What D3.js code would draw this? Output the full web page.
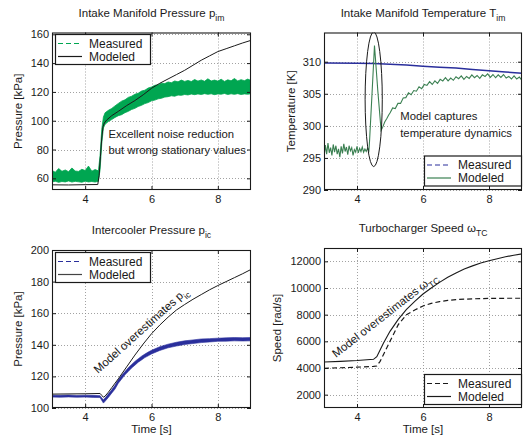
<!DOCTYPE html>
<html>
<head>
<meta charset="utf-8">
<script src="https://cdn.jsdelivr.net/npm/d3@7"></script>
<style>
  html, body { margin: 0; padding: 0; background: #fff; }
  svg { display: block; font-family: "Liberation Sans", Arial, Helvetica, sans-serif; }
</style>
</head>
<body>
<svg id="chart" width="523" height="439"></svg>
<script>
// ---------- shared axis values ----------
const timeDomain = [3, 9];
const timeTicks = [4, 6, 8];

// ---------- intake manifold pressure p_im [kPa] ----------
// measured signal is very noisy: kept as lower / upper envelope of the band
const pimBandTime = [3.0,3.1,3.2,3.3,3.4,3.5,3.6,3.7,3.8,3.9,4.0,4.1,4.2,4.3,4.4,4.45,4.5,4.55,4.6,
  4.7,4.8,4.9,5.0,5.1,5.2,5.3,5.4,5.5,5.6,5.7,5.8,5.9,6.0,6.1,6.2,6.3,6.4,6.5,6.6,6.7,6.8,6.9,
  7.0,7.1,7.2,7.3,7.4,7.5,7.6,7.7,7.8,7.9,8.0,8.1,8.2,8.3,8.4,8.5,8.6,8.7,8.8,8.9,9.0];
const pimBandLow = [57.5,58.0,57.2,57.8,57.5,58.2,57.4,57.9,57.6,57.3,58.0,57.5,57.8,57.4,58.0,66,84,95,97.5,
  99.5,100.8,102.3,103.5,104.2,105.6,106.5,107.8,108.6,109.9,110.7,111.9,112.6,113.8,114.3,115.2,115.6,116.4,116.7,117.3,117.0,117.8,117.6,
  118.2,117.9,118.5,118.1,118.6,118.2,118.8,118.3,118.7,118.1,118.6,118.4,118.9,118.2,118.7,118.3,118.8,118.2,118.6,118.4,118.7];
const pimBandHigh = [65.5,64.2,66.8,64.9,65.8,64.6,67.2,65.1,64.8,66.3,65.4,68.5,65.0,66.1,65.2,76,94,102.5,105.5,
  107.2,108.5,110.3,112.0,113.6,114.5,116.2,117.0,118.4,119.1,120.6,121.2,122.7,123.4,124.6,124.9,126.1,125.8,126.9,126.4,127.6,127.0,128.2,
  127.3,128.0,127.2,128.6,127.5,128.3,127.4,129.1,127.6,128.2,127.5,128.8,127.3,128.4,127.7,129.3,127.6,128.5,127.8,128.9,128.0];
const pimModelTime = [3.0,3.5,4.0,4.38,4.42,4.46,4.5,4.54,4.58,4.65,4.8,5.0,5.25,5.5,5.75,6.0,6.25,6.5,6.75,7.0,7.25,7.5,7.75,8.0,8.25,8.5,8.75,9.0];
const pimModelValue = [55.5,55.4,55.6,55.7,62,75,88,96,98.5,100.5,103.5,106.5,110.5,114,118,122.5,126,129,132,135,138.5,142,145,148,150,152,154,155.8];
const pimTicks = [60, 80, 100, 120, 140, 160];

// ---------- intake manifold temperature T_im [K] ----------
const timMeasTime = [3.0,4.0,4.5,5.0,5.5,6.0,6.5,7.0,7.5,8.0,8.5,9.0];
const timMeasValue = [309.8,309.75,309.7,309.6,309.5,309.3,309.15,309.0,308.8,308.6,308.4,308.2];
const timModelTime = [3.00,3.04,3.08,3.12,3.16,3.20,3.24,3.28,3.32,3.36,3.40,3.44,3.48,3.52,3.56,3.60,3.64,3.68,3.72,3.76,
  3.80,3.84,3.88,3.92,3.96,4.00,4.04,4.08,4.12,4.16,4.20,4.24,4.28,4.32,4.36,
  4.38,4.45,4.53,4.63,4.73,4.78,4.84,4.90,4.96,
  5.00,5.08,5.16,5.24,5.32,5.40,5.48,5.56,5.64,5.72,5.80,5.88,5.96,6.04,6.12,6.20,6.28,6.36,6.44,6.52,6.60,6.68,6.76,6.84,6.92,
  7.00,7.08,7.16,7.24,7.32,7.40,7.48,7.56,7.64,7.72,7.80,7.88,7.96,8.04,8.12,8.20,8.28,8.36,8.44,8.52,8.60,8.68,8.76,8.84,8.92,9.00];
const timModelValue = [295.2,297.0,295.6,297.3,295.8,296.6,295.4,297.1,295.9,296.9,295.6,296.4,295.1,296.8,295.7,297.2,296.0,296.7,295.5,296.9,
  296.1,296.6,295.4,296.3,295.9,296.8,295.8,296.5,296.0,296.7,295.9,296.4,296.0,296.5,296.1,
  297.6,304.5,312.5,305.5,299.3,299.8,300.6,301.1,301.7,
  302.0,302.8,302.7,303.5,303.5,304.35,304.4,305.15,304.85,305.5,305.4,306.1,305.8,306.45,306.3,306.9,306.45,307.0,306.6,307.25,307.0,307.5,307.0,307.45,307.1,
  307.65,307.35,307.8,307.25,307.7,307.4,307.95,307.5,307.85,307.4,307.95,307.7,308.1,307.55,308.0,307.5,307.95,307.55,308.0,307.45,307.7,307.3,307.8,307.3,307.6,307.1];
const timTicks = [290, 295, 300, 305, 310];
// highlighted transient: centre time, centre temperature, half-width [s], half-height [K]
const timHighlight = { t: 4.506, v: 304.15, dt: 0.26, dv: 10.5 };

// ---------- intercooler pressure p_ic [kPa] ----------
const picBandTime = [3.0,3.25,3.5,3.75,4.0,4.25,4.45,4.5,4.55,4.6,4.7,4.8,4.9,5.0,5.1,5.2,5.3,5.4,5.5,5.6,5.7,5.8,5.9,6.0,
  6.25,6.5,6.75,7.0,7.25,7.5,7.75,8.0,8.25,8.5,8.75,9.0];
const picBandLow = [106.9,106.8,107.0,106.8,106.9,106.7,106.6,104.8,103.1,104.2,106.7,109.4,112.0,115.7,118.3,121.0,123.1,125.3,127.1,129.0,130.4,131.9,133.0,134.2,
  136.4,138.1,139.2,140.2,140.8,141.4,141.8,142.2,142.3,142.5,142.4,142.5];
const picBandHigh = [108.1,108.0,108.2,107.9,108.1,108.0,107.8,106.3,105.3,106.4,109.0,111.6,114.4,118.0,120.7,123.1,125.5,127.5,129.5,131.1,132.8,134.1,135.4,136.5,
  138.8,140.4,141.6,142.5,143.1,143.7,143.9,144.2,144.4,144.6,144.5,144.6];
const picModelTime = [3.0,4.0,4.45,4.5,4.55,4.6,4.7,4.8,5.0,5.25,5.5,5.75,6.0,6.25,6.5,6.75,7.0,7.25,7.5,7.75,8.0,8.25,8.5,8.75,9.0];
const picModelValue = [108.8,109.0,109.2,108.0,106.8,107.5,110.0,112.8,118.5,126.0,133.5,140.5,147.0,152.5,157.5,162.0,165.5,168.8,171.8,174.8,177.5,180.0,182.5,185.0,187.7];
const picTicks = [100, 120, 140, 160, 180, 200];

// ---------- turbocharger speed w_TC [rad/s] ----------
const wtcMeasTime = [3.0,3.5,4.0,4.5,4.6,4.7,4.8,4.9,5.0,5.25,5.5,5.75,6.0,6.25,6.5,6.75,7.0,7.5,8.0,8.5,9.0];
const wtcMeasValue = [3980,4020,4060,4120,4150,4500,5000,5500,6000,7250,8000,8350,8650,8850,8980,9070,9130,9190,9220,9230,9230];
const wtcModelTime = [3.0,3.5,4.0,4.5,4.6,4.7,4.8,4.9,5.0,5.25,5.5,5.75,6.0,6.25,6.5,6.75,7.0,7.25,7.5,7.75,8.0,8.25,8.5,8.75,9.0];
const wtcModelValue = [4450,4500,4560,4650,4850,5350,5850,6300,6750,7650,8400,9000,9550,10000,10420,10800,11130,11420,11660,11870,12050,12200,12340,12460,12560];
const wtcTicks = [2000, 4000, 6000, 8000, 10000, 12000];

// ---------- colours ----------
const greenBright = "#00a651";
const greenDark = "#3b8052";
const navy = "#2a2f9c";
const ink = "#1a1a1a";

const svg = d3.select("#chart");
svg.append("rect").attr("width", 523).attr("height", 439).attr("fill", "#fff");
const defs = svg.append("defs");

const zip = (ts, vs) => ts.map((t, i) => ({ t, v: vs[i] }));
const zip3 = (ts, lo, hi) => ts.map((t, i) => ({ t, lo: lo[i], hi: hi[i] }));

// text with a trailing subscript
function subText(parent, x, y, main, sub, size, anchor, angle) {
  const t = parent.append("text")
    .attr("x", x).attr("y", y)
    .attr("font-size", size)
    .attr("text-anchor", anchor)
    .attr("fill", ink);
  if (angle) t.attr("transform", `rotate(${angle},${x},${y})`);
  t.append("tspan").text(main);
  if (sub) t.append("tspan").attr("font-size", size * 0.75).attr("dy", size * 0.36).text(sub);
  return t;
}

let clipId = 0;
function panel(p) {
  const x = d3.scaleLinear().domain(timeDomain).range([p.left, p.right]);
  const y = d3.scaleLinear().domain(p.yDomain).range([p.bottom, p.top]);
  const g = svg.append("g");

  // dotted grid
  g.append("g").selectAll("line.gx").data(timeTicks).join("line")
    .attr("x1", d => Math.round(x(d)) + 0.5).attr("x2", d => Math.round(x(d)) + 0.5)
    .attr("y1", p.top).attr("y2", p.bottom)
    .attr("stroke", "#8a8a8a").attr("stroke-width", 0.8).attr("stroke-dasharray", "1,2");
  g.append("g").selectAll("line.gy").data(p.yTicks).join("line")
    .attr("y1", d => Math.round(y(d)) + 0.5).attr("y2", d => Math.round(y(d)) + 0.5)
    .attr("x1", p.left).attr("x2", p.right)
    .attr("stroke", "#8a8a8a").attr("stroke-width", 0.8).attr("stroke-dasharray", "1,2");

  // data layer
  const id = "clip" + (clipId++);
  defs.append("clipPath").attr("id", id).append("rect")
    .attr("x", p.left).attr("y", p.top).attr("width", p.right - p.left).attr("height", p.bottom - p.top);
  const plot = g.append("g").attr("clip-path", `url(#${id})`);
  p.draw(plot, x, y);

  // axes with inward ticks
  const axB = d3.axisBottom(x).tickValues(timeTicks).tickSizeInner(-4).tickSizeOuter(0).tickPadding(5).tickFormat(d3.format("d"));
  const axT = d3.axisTop(x).tickValues(timeTicks).tickSizeInner(-4).tickSizeOuter(0).tickFormat("");
  const axL = d3.axisLeft(y).tickValues(p.yTicks).tickSizeInner(-4).tickSizeOuter(0).tickPadding(3).tickFormat(d3.format("d"));
  const axR = d3.axisRight(y).tickValues(p.yTicks).tickSizeInner(-4).tickSizeOuter(0).tickFormat("");
  const styleAxis = s => {
    s.select(".domain").remove();
    s.selectAll(".tick line").attr("stroke", ink);
    s.selectAll(".tick text").attr("fill", ink).attr("font-size", 11)
      .attr("font-family", '"Liberation Sans", Arial, Helvetica, sans-serif');
  };
  g.append("g").attr("transform", `translate(0,${p.bottom})`).call(axB).call(styleAxis);
  g.append("g").attr("transform", `translate(0,${p.top})`).call(axT).call(styleAxis);
  g.append("g").attr("transform", `translate(${p.left},0)`).call(axL).call(styleAxis);
  g.append("g").attr("transform", `translate(${p.right},0)`).call(axR).call(styleAxis);

  // frame
  g.append("rect")
    .attr("x", p.left + 0.5).attr("y", p.top + 0.5)
    .attr("width", p.right - p.left - 1).attr("height", p.bottom - p.top - 1)
    .attr("fill", "none").attr("stroke", ink).attr("stroke-width", 1.1);

  // title and axis labels
  subText(g, (p.left + p.right) / 2, p.top - 16, p.title[0], p.title[1], 11.5, "middle");
  g.append("text")
    .attr("transform", `translate(${p.ylabelX},${(p.top + p.bottom) / 2}) rotate(-90)`)
    .attr("text-anchor", "middle").attr("font-size", 11.5).attr("fill", ink)
    .text(p.ylabel);
  if (p.xlabel) {
    g.append("text")
      .attr("x", (p.left + p.right) / 2).attr("y", 433)
      .attr("text-anchor", "middle").attr("font-size", 11.5).attr("fill", ink)
      .text(p.xlabel);
  }

  // legend
  const L = p.legend;
  const lg = g.append("g");
  lg.append("rect").attr("x", L.x + 0.5).attr("y", L.y + 0.5).attr("width", L.w).attr("height", 30)
    .attr("fill", "#fff").attr("stroke", ink).attr("stroke-width", 1.2);
  L.items.forEach((it, i) => {
    const cy = L.y + 9.5 + i * 13;
    lg.append("line").attr("x1", L.x + 3).attr("x2", L.x + 27).attr("y1", cy).attr("y2", cy)
      .attr("stroke", it.color).attr("stroke-width", 1.2)
      .attr("stroke-dasharray", it.dash || null);
    lg.append("text").attr("x", L.x + 34).attr("y", cy + 4.3)
      .attr("font-size", 12).attr("fill", ink).text(it.label);
  });

  if (p.annotate) p.annotate(g, x, y);
}

// ---------- p_im ----------
panel({
  left: 52, right: 251, top: 32.5, bottom: 190,
  yDomain: [51.9, 161.25], yTicks: pimTicks,
  title: ["Intake Manifold Pressure p", "im"],
  ylabel: "Pressure [kPa]", ylabelX: 22,
  draw(plot, x, y) {
    plot.append("path").datum(zip3(pimBandTime, pimBandLow, pimBandHigh))
      .attr("d", d3.area().x(d => x(d.t)).y0(d => y(d.lo)).y1(d => y(d.hi)))
      .attr("fill", greenBright).attr("stroke", greenBright).attr("stroke-width", 0.8);
    plot.append("path").datum(zip(pimModelTime, pimModelValue))
      .attr("d", d3.line().x(d => x(d.t)).y(d => y(d.v)))
      .attr("fill", "none").attr("stroke", ink).attr("stroke-width", 1);
  },
  legend: { x: 55, y: 34, w: 95, items: [
    { label: "Measured", color: greenBright, dash: "5,3" },
    { label: "Modeled", color: ink } ] },
  annotate(g, x, y) {
    g.append("text").attr("x", x(4.7)).attr("y", y(87.8)).attr("font-size", 11.3).attr("fill", ink)
      .text("Excellent noise reduction");
    g.append("text").attr("x", x(4.7)).attr("y", y(76.9)).attr("font-size", 11.3).attr("fill", ink)
      .text("but wrong stationary values");
  }
});

// ---------- T_im ----------
panel({
  left: 324, right: 522, top: 32.5, bottom: 190,
  yDomain: [290, 314.55], yTicks: timTicks,
  title: ["Intake Manifold Temperature T", "im"],
  ylabel: "Temperature [K]", ylabelX: 295,
  draw(plot, x, y) {
    plot.append("path").datum(zip(timMeasTime, timMeasValue))
      .attr("d", d3.line().x(d => x(d.t)).y(d => y(d.v)))
      .attr("fill", "none").attr("stroke", navy).attr("stroke-width", 1.5);
    plot.append("path").datum(zip(timModelTime, timModelValue))
      .attr("d", d3.line().x(d => x(d.t)).y(d => y(d.v)))
      .attr("fill", "none").attr("stroke", greenDark).attr("stroke-width", 1.1);
    const h = timHighlight;
    plot.append("ellipse")
      .attr("cx", x(h.t)).attr("cy", y(h.v))
      .attr("rx", x(h.t + h.dt) - x(h.t)).attr("ry", y(h.v - h.dv) - y(h.v))
      .attr("fill", "none").attr("stroke", ink).attr("stroke-width", 1);
  },
  legend: { x: 424, y: 155.5, w: 97, items: [
    { label: "Measured", color: navy, dash: "5,3" },
    { label: "Modeled", color: greenDark } ] },
  annotate(g, x, y) {
    g.append("text").attr("x", x(5.31)).attr("y", y(300.9)).attr("font-size", 11.3).attr("fill", ink)
      .text("Model captures");
    g.append("text").attr("x", x(5.31)).attr("y", y(298.2)).attr("font-size", 11.3).attr("fill", ink)
      .text("temperature dynamics");
  }
});

// ---------- p_ic ----------
panel({
  left: 52, right: 251, top: 250, bottom: 408,
  yDomain: [100, 200], yTicks: picTicks,
  title: ["Intercooler Pressure p", "ic"],
  ylabel: "Pressure [kPa]", ylabelX: 22, xlabel: "Time [s]",
  draw(plot, x, y) {
    plot.append("path").datum(zip3(picBandTime, picBandLow, picBandHigh))
      .attr("d", d3.area().x(d => x(d.t)).y0(d => y(d.lo)).y1(d => y(d.hi)))
      .attr("fill", navy).attr("stroke", navy).attr("stroke-width", 0.6);
    plot.append("path").datum(zip(picModelTime, picModelValue))
      .attr("d", d3.line().x(d => x(d.t)).y(d => y(d.v)))
      .attr("fill", "none").attr("stroke", ink).attr("stroke-width", 1);
  },
  legend: { x: 55, y: 252, w: 95, items: [
    { label: "Measured", color: navy, dash: "5,3" },
    { label: "Modeled", color: "#444" } ] },
  annotate(g, x, y) {
    subText(g, x(4.39), y(121.5), "Model overestimates p", "ic", 11.5, "start", -42);
  }
});

// ---------- w_TC ----------
panel({
  left: 324, right: 522, top: 248, bottom: 408,
  yDomain: [1000, 13000], yTicks: wtcTicks,
  title: ["Turbocharger Speed \u03C9", "TC"],
  ylabel: "Speed [rad/s]", ylabelX: 281, xlabel: "Time [s]",
  draw(plot, x, y) {
    plot.append("path").datum(zip(wtcMeasTime, wtcMeasValue))
      .attr("d", d3.line().x(d => x(d.t)).y(d => y(d.v)))
      .attr("fill", "none").attr("stroke", ink).attr("stroke-width", 1.2).attr("stroke-dasharray", "5,3");
    plot.append("path").datum(zip(wtcModelTime, wtcModelValue))
      .attr("d", d3.line().x(d => x(d.t)).y(d => y(d.v)))
      .attr("fill", "none").attr("stroke", ink).attr("stroke-width", 1.1);
  },
  legend: { x: 424, y: 374, w: 97, items: [
    { label: "Measured", color: ink, dash: "5,3" },
    { label: "Modeled", color: ink } ] },
  annotate(g, x, y) {
    subText(g, x(3.36), y(4750), "Model overestimates \u03C9", "TC", 11.5, "start", -38);
  }
});
</script>
</body>
</html>
